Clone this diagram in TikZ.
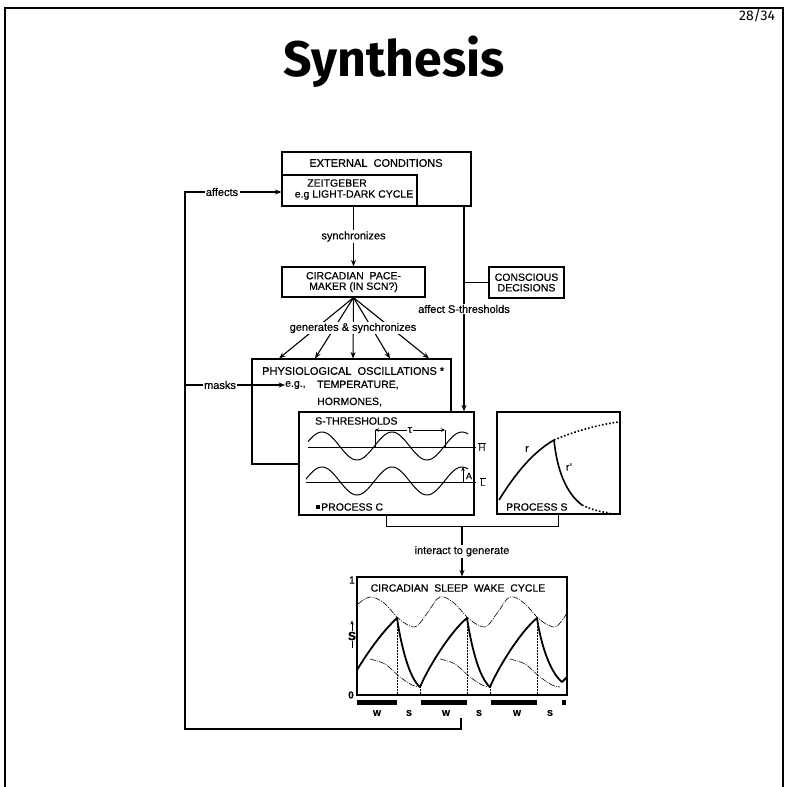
\documentclass[tikz,border=0pt]{standalone}
\usepackage{fontspec}
\setmainfont{Liberation Sans}[FakeBold=0.45]
\newfontfamily\titlefont{Fira Sans}
\usetikzlibrary{arrows.meta}
\begin{document}
\begin{tikzpicture}[x=1pt,y=-1pt,
  box/.style={draw, line width=1.1pt, fill=white, inner sep=0pt},
  conn/.style={line width=1.1pt},
  arr/.style={line width=1.1pt, -{Stealth[length=6.5pt,width=5pt]}},
  lbl/.style={fill=white, inner sep=1.2pt, font=\fontsize{11}{12}\selectfont},
  txt/.style={inner sep=0pt, font=\fontsize{10.5}{11}\selectfont},
  thinc/.style={line width=0.6pt, dash pattern=on 6pt off 1.2pt on 1pt off 1.2pt},
  wlab/.style={inner sep=0pt, font=\bfseries\fontsize{8.5}{9}\selectfont}]
\useasboundingbox (0,0) rectangle (787,787);
% slide frame
\draw[line width=2.5pt] (5,787) -- (5,8) -- (783,8) -- (783,787);
\node[anchor=base, font=\titlefont\bfseries\fontsize{50}{56}\selectfont] (title) at (394,76) {Synthesis};
\node[anchor=base, font=\titlefont\fontsize{14}{16}\selectfont] (page) at (757,20) {28/34};

% feedback loop
\coordinate (fbend) at (461,718);
\node[lbl] (affects) at (222,192) {affects};
\node[lbl] (masks) at (220,385) {masks};
\draw[conn] (fbend) -- (461,729) -- (185,729) -- (185,192) -- (affects.west);
\draw[conn] (185,385) -- (masks.west);

% external conditions
\node[box, minimum width=189pt, minimum height=54pt] (ext) at (376.5,179) {};
\node[txt, font=\fontsize{11}{12}\selectfont] (extt) at (376,163) {EXTERNAL\ \ CONDITIONS};
\node[box, minimum width=135pt, minimum height=31pt] (zeit) at (349.5,190.5) {};
\node[txt] (zt1) at (337,183) {ZEITGEBER};
\node[txt] (zt2) at (354,195) {e.g LIGHT-DARK CYCLE};
\draw[arr] (affects.east) -- (zeit.west |- affects.east);

% pacemaker
\node[box, minimum width=143pt, minimum height=30pt, align=center, font=\fontsize{10.5}{10.5}\selectfont] (pace) at (353.5,282) {CIRCADIAN\ \ PACE-\\MAKER (IN SCN?)};
\draw[arr] (pace.north |- zeit.south) -- node[lbl] (sync) {synchronizes} (pace.north);

% conscious decisions
\node[box, minimum width=75pt, minimum height=31pt, align=center, font=\fontsize{10.5}{10.5}\selectfont] (consc) at (526.5,282.5) {CONSCIOUS\\DECISIONS};
\coordinate (rv) at (464,0);

% physiological oscillations
\node[box, minimum width=199pt, minimum height=105pt] (phys) at (351.5,411.5) {};
\node[txt, anchor=west, font=\fontsize{11}{12}\selectfont] (physt) at (262,371) {PHYSIOLOGICAL\ \ OSCILLATIONS *};
\node[txt, anchor=west] (eg) at (285,385) {e.g.,};
\node[txt, anchor=west] (temp) at (317,385) {TEMPERATURE,};
\node[txt, anchor=west] (horm) at (317,402) {HORMONES,};
\draw[arr] (masks.east) -- (eg.west);

% fan of arrows
\foreach \x in {279,315,353,390,429}
  \draw[arr] (pace.south) -- (phys.north -| \x,0);
\node[lbl] (gen) at (353,328) {generates \& synchronizes};

% S-thresholds box
\node[box, minimum width=175pt, minimum height=103pt] (sth) at (386.5,463.5) {};
\node[txt, anchor=west] (stht) at (315,421) {S-THRESHOLDS};
\draw[line width=1pt] (308,447) -- (476,447);
\draw[line width=1pt] (306,482) -- (476,482);
\draw[line width=1pt] plot[domain=308:468, samples=90, smooth] (\x,{446-14*cos(5.142857*(\x-322))});
\draw[line width=1pt] plot[domain=306:468, samples=90, smooth] (\x,{481-14*cos(5.142857*(\x-322))});
\draw[line width=0.8pt] (375,447) -- (375,430);
\draw[line width=0.8pt] (445,447) -- (445,430);
\draw[line width=0.8pt, {Stealth[length=4pt,width=3.5pt]}-{Stealth[length=4pt,width=3.5pt]}] (375,430) -- node[fill=white, inner sep=1pt, font=\fontsize{11}{11}\selectfont] (tau) {τ} (445,430);
\draw[line width=0.8pt, -{Stealth[length=4pt,width=3.5pt]}] (463,482) -- (463,467);
\node[txt, font=\fontsize{9}{10}\selectfont] (alab) at (469,476) {A};
\node[txt] (hlab) at (482,447) {$\overline{\mathsf{H}}$};
\node[txt] (llab) at (483,482) {$\overline{\mathsf{L}}$};
\node[fill, minimum size=3.5pt, inner sep=0pt] (star) at (318,507) {};
\node[txt, anchor=west] (pct) at (321,507) {PROCESS C};

% right vertical arrow
\draw[arr] (ext.south -| rv) -- node[lbl] (aff) {affect S-thresholds} (sth.north -| rv);
\draw[conn] (consc.west) -- (consc.west -| rv);

% Process S box
\node[box, minimum width=123pt, minimum height=102pt] (procs) at (558.5,463) {};
\draw[line width=1.6pt] (499,500) .. controls (515,474) and (533,452) .. (554,440);
\draw[line width=1.6pt, dotted] (554,440) .. controls (575,431) and (598,425) .. (618,422);
\draw[line width=1.6pt] (554,440) .. controls (557,470) and (566,493) .. (582,505);
\draw[line width=1.6pt, dotted] (582,505) .. controls (592,510) and (602,512) .. (610,513);
\node[txt] (rlab) at (527,449) {r};
\node[txt] (rplab) at (569,467) {r'};
\node[txt, anchor=west] (pst) at (506,507) {PROCESS S};

% interact
\node[box, minimum width=210pt, minimum height=118pt] (sw) at (462,636) {};
\coordinate (jn) at (sw.north |- 0,526);
\draw[conn] (sth.south) -- ++(0,11) -| (procs.south);
\draw[arr] (jn) -- node[lbl] (inter) {interact to generate} (sw.north);

% sleep wake cycle
\node[txt, font=\fontsize{10.5}{11}\selectfont] (swt) at (458,588) {CIRCADIAN\ \ SLEEP\ \ WAKE\ \ CYCLE};
\draw[line width=1.6pt] (sw.south west) -- (sw.south east);
\node[txt] (one) at (352,580) {1};
\node[txt, font=\bfseries\fontsize{10}{11}\selectfont] (zero) at (351,695) {0};
\node[txt, font=\bfseries\fontsize{12}{12}\selectfont] (slab) at (352,636) {S};
\draw[line width=0.9pt, -{Stealth[length=4pt,width=3.5pt]}] (slab.north) ++(0,-1) -- ++(0,-10);
\draw[line width=0.9pt] (slab.south) ++(0,1) -- ++(0,7);
\draw[thinc] plot[smooth, tension=0.6] coordinates {(358,604) (370,597) (384,603) (397,617) (408,625) (417,626) (428,612) (440,597) (454,603) (467,617) (478,625) (487,626) (498,612) (510,597) (524,603) (537,617) (548,625) (557,626) (567,613)};
\foreach \o in {0,70,140}
  \draw[thinc] plot[smooth] coordinates {({370+\o},659) ({385+\o},664) ({400+\o},677) ({412+\o},685) ({420+\o},687)};
\foreach \x in {397,467,537}
  \draw[line width=0.5pt, densely dotted] (\x,618) -- (\x,695);
\foreach \x in {420,490}
  \draw[line width=0.5pt, densely dotted] (\x,687) -- (\x,695);
\draw[line width=1.8pt, line join=round]
  (357,670) .. controls (368,652) and (382,632) .. (397,618)
  .. controls (401,645) and (409,678) .. (420,687)
  .. controls (428,668) and (450,632) .. (467,618)
  .. controls (471,645) and (479,678) .. (490,687)
  .. controls (498,668) and (520,632) .. (537,618)
  .. controls (541,645) and (550,672) .. (562,682)
  -- (567,677);
\fill (357,700) rectangle (397,705);
\fill (421,700) rectangle (467,705);
\fill (491,700) rectangle (537,705);
\fill (562,700) rectangle (566,705);
\node[wlab] (w1) at (377,713) {W};
\node[wlab] (w2) at (446,713) {W};
\node[wlab] (w3) at (517,713) {W};
\node[wlab] (s1) at (409,713) {S};
\node[wlab] (s2) at (479,713) {S};
\node[wlab] (s3) at (550,713) {S};
\end{tikzpicture}
\end{document}
